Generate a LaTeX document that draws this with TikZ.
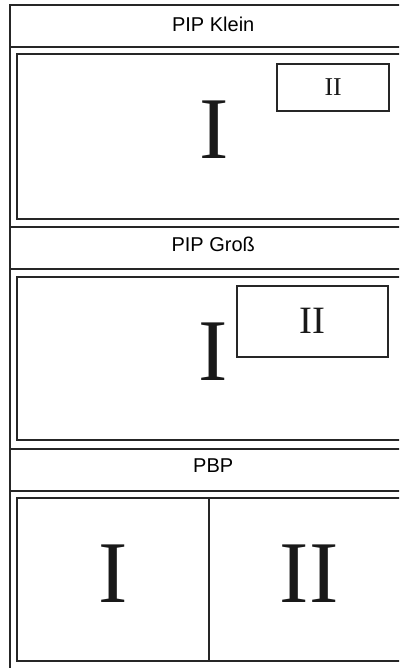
\documentclass[tikz,border=0pt]{standalone}
\usepackage{fontspec}
\setmainfont{Liberation Serif}
\newfontfamily\headfont{Liberation Sans}

\begin{document}
\begin{tikzpicture}[x=1pt, y=-1pt,
  frame/.style={draw=black!85, line width=1.8pt},
  head/.style={font=\headfont\fontsize{20}{23}\selectfont, inner sep=0pt},
  big/.style={font=\fontsize{88}{90}\selectfont, text=black!90, inner sep=0pt},
  win/.style={draw=black!85, line width=1.8pt, inner sep=0pt, text=black!90}
]
  \useasboundingbox (0,0) rectangle (399,668);
  \clip (0,0) rectangle (399,668);

  % outer frame with the three headers
  \draw[frame] (10,4.7) rectangle (416.5,670);
  \draw[frame] (10,46.7) -- (416.5,46.7);
  \draw[frame] (10,226.7) -- (416.5,226.7);
  \draw[frame] (10,268.7) -- (416.5,268.7);
  \draw[frame] (10,448.7) -- (416.5,448.7);
  \draw[frame] (10,490.7) -- (416.5,490.7);

  \node[head] (kleinhead) at (213.2,24.2) {PIP Klein};
  \node[head] (grosshead) at (213.2,244.5) {PIP Groß};
  \node[head] (pbphead) at (213.2,465.8) {PBP};

  % PIP Klein
  \draw[frame] (17.3,54.3) rectangle (409,219);
  \node[big] (kleinmain) at (214,129.5) {I};
  \node[win, minimum width=111.7pt, minimum height=46.7pt,
        font=\fontsize{25.7}{28}\selectfont] (kleinsub) at (333.2,87.5) {II};

  % PIP Gross
  \draw[frame] (17.3,276.7) rectangle (409,440);
  \node[big] (grossmain) at (213.3,352) {I};
  \node[win, minimum width=151.3pt, minimum height=70.7pt,
        font=\fontsize{38.7}{41}\selectfont] (grosssub) at (312.7,321.3) {II};

  % PBP
  \draw[frame] (17.3,497.7) rectangle (409,660.7);
  \draw[draw=black!85, line width=1.3pt] (209,497.7) -- (209,660.7);
  \node[big] (pbpleft) at (113,573.8) {I};
  \node[big] (pbpright) at (309,573.8) {II};
\end{tikzpicture}
\end{document}
